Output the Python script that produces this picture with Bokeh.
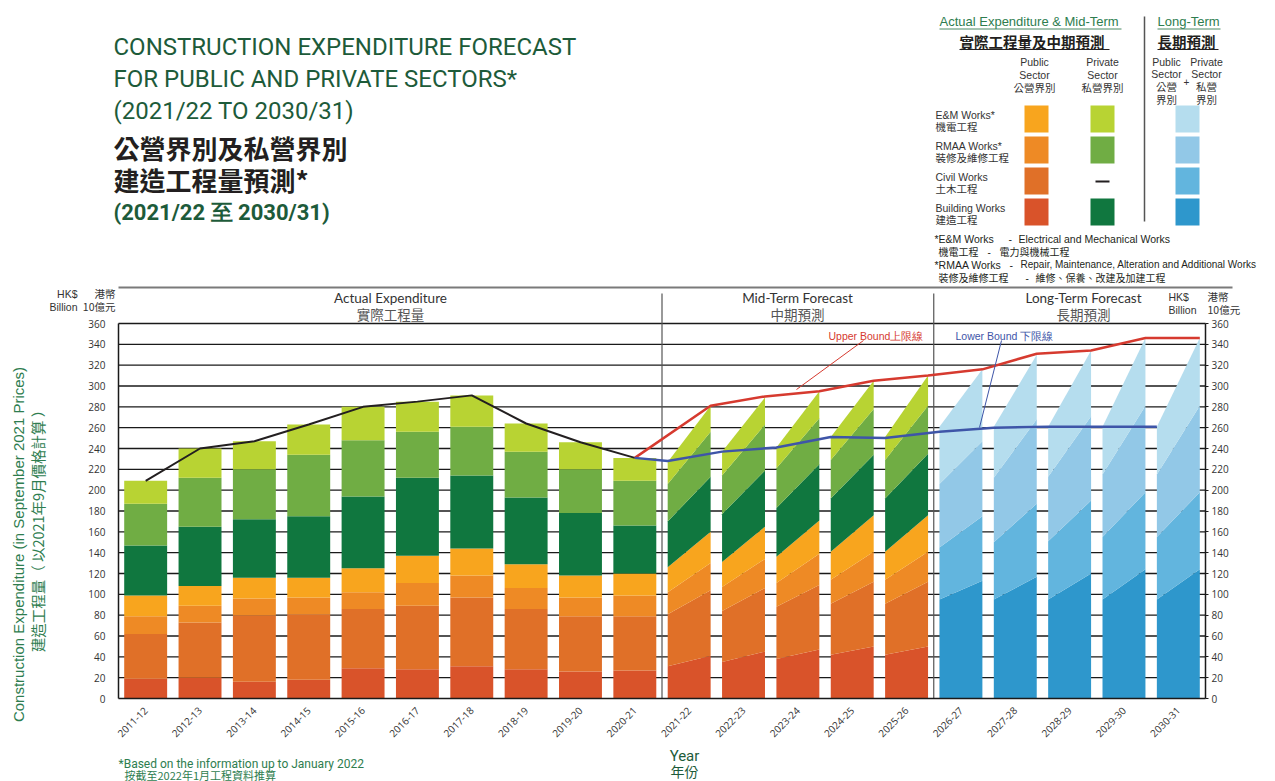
import numpy as np
from math import pi
from bokeh.plotting import figure
from bokeh.models import Range1d, FixedTicker, LinearAxis, Label
from bokeh.embed import file_html
from bokeh.resources import INLINE

# ---------------- data (HK$ billion, Sept 2021 prices) ----------------
years = ["2011-12", "2012-13", "2013-14", "2014-15", "2015-16", "2016-17",
         "2017-18", "2018-19", "2019-20", "2020-21", "2021-22", "2022-23",
         "2023-24", "2024-25", "2025-26", "2026-27", "2027-28", "2028-29",
         "2029-30", "2030-31"]

# actual expenditure 2011-12 .. 2020-21
act_pub_building = [19, 20, 16, 18, 29, 28, 31, 28, 26, 27]
act_pub_civil = [43, 53, 64, 63, 57, 61, 66, 58, 53, 52]
act_pub_rmaa = [17, 16, 16, 16, 16, 22, 21, 20, 18, 20]
act_pub_em = [20, 19, 20, 19, 23, 26, 26, 23, 21, 21]
act_priv_building = [48, 57, 56, 59, 69, 75, 70, 64, 60, 46]
act_priv_rmaa = [40, 47, 48, 59, 54, 44, 47, 44, 42, 43]
act_priv_em = [22, 28, 27, 29, 32, 29, 30, 27, 26, 22]

# mid-term forecast 2021-22 .. 2025-26 (low / high estimates)
mid_pub_building_low = [31, 35, 38, 42, 42]
mid_pub_building_high = [41, 45, 47, 50, 50]
mid_pub_civil_low = [50, 49, 50, 49, 49]
mid_pub_civil_high = [63, 61, 62, 62, 62]
mid_pub_rmaa_low = [21, 23, 23, 23, 23]
mid_pub_rmaa_high = [26, 28, 30, 29, 29]
mid_pub_em_low = [24, 24, 25, 27, 27]
mid_pub_em_high = [30, 31, 32, 35, 35]
mid_priv_building_low = [44, 46, 47, 51, 51]
mid_priv_building_high = [53, 54, 54, 58, 59]
mid_priv_rmaa_low = [36, 37, 38, 37, 37]
mid_priv_rmaa_high = [43, 44, 44, 44, 46]
mid_priv_em_low = [21, 23, 20, 22, 22]
mid_priv_em_high = [25, 26, 26, 27, 29]

# long-term forecast 2026-27 .. 2030-31 (public + private, low / high)
long_building_low = [95, 95, 95, 95, 95]
long_building_high = [113, 117, 120, 124, 124]
long_civil_low = [50, 55, 56, 60, 60]
long_civil_high = [62, 70, 70, 74, 74]
long_rmaa_low = [61, 62, 62, 60, 60]
long_rmaa_high = [72, 81, 81, 83, 83]
long_em_low = [55, 49, 48, 46, 46]
long_em_high = [69, 62, 63, 65, 65]

upper_bound = [281, 290, 295, 305, 310, 316, 331, 334, 346, 346]
lower_bound = [228, 237, 241, 251, 250, 256, 260, 261, 261, 261]

y_ticks = list(range(0, 361, 20))

# ---------------- styling ----------------
C_PUB_B, C_PUB_C, C_PUB_R, C_PUB_E = "#D9532A", "#E07028", "#EE8A25", "#F8A51E"
C_PRI_B, C_PRI_R, C_PRI_E = "#10773F", "#70AD44", "#B8D333"
C_L_B, C_L_C, C_L_R, C_L_E = "#2E97CC", "#62B5DE", "#92C8E7", "#B5DDEE"
GREEN_T = "#1D5B3A"
GREEN_L = "#2E7D4F"
RED = "#D63A2F"
BLUE = "#3E55A8"
BAR_W = 0.79
HALF = BAR_W / 2
W, H = 1275, 781


# page-pixel -> data helpers for layout decorations
def X(px):
    return (px - 118) / 54.35 - 0.5


def Y(py):
    return (698 - py) * 360 / 375


p = figure(width=W, height=H, output_backend="svg", toolbar_location=None,
           x_range=Range1d(X(0), X(W)), y_range=Range1d(Y(H), Y(0)),
           x_axis_location=None, y_axis_location=None,
           min_border_left=0, min_border_right=0, min_border_top=0,
           min_border_bottom=0, background_fill_color="white")
p.outline_line_color = None
p.xgrid.visible = False
p.ygrid.visible = False


def style_axis(ax):
    ax.minor_tick_line_color = None
    ax.axis_line_color = "#1a1a1a"
    ax.axis_line_width = 1.5
    ax.major_label_text_font = "Open Sans"
    ax.major_label_text_font_size = "10px"
    ax.major_label_text_color = "#333333"


la = LinearAxis(ticker=FixedTicker(ticks=y_ticks), bounds=(0, 360), fixed_location=-0.5)
style_axis(la)
la.major_tick_line_color = None
la.major_label_standoff = 7
p.add_layout(la, "left")

ra = LinearAxis(ticker=FixedTicker(ticks=y_ticks), bounds=(0, 360), fixed_location=19.5)
style_axis(ra)
ra.major_tick_out = 3
ra.major_tick_in = 0
ra.major_tick_line_color = "#1a1a1a"
ra.major_label_standoff = 3
p.add_layout(ra, "right")

ba = LinearAxis(ticker=FixedTicker(ticks=list(range(len(years)))), bounds=(-0.5, 19.5),
                fixed_location=0)
style_axis(ba)
ba.major_label_overrides = {i: y for i, y in enumerate(years)}
ba.major_label_orientation = pi / 4
ba.major_tick_line_color = None
ba.major_label_standoff = 4
p.add_layout(ba, "below")

# horizontal grid lines (0..360, across the plot only)
p.segment(x0=[-0.5] * len(y_ticks[1:]), y0=y_ticks[1:], x1=[19.5] * len(y_ticks[1:]),
          y1=y_ticks[1:], line_color="#1a1a1a", line_width=1.3)

# section dividers and header rule
p.segment(x0=[9.5, 14.5], y0=[0, 0], x1=[9.5, 14.5], y1=[Y(293), Y(293)],
          line_color="#555555", line_width=1.2)
p.segment(x0=[X(118)], y0=[Y(287)], x1=[X(1232)], y1=[Y(287)],
          line_color="#7a7a7a", line_width=2)

# ---------------- actual bars ----------------
act_layers = [act_pub_building, act_pub_civil, act_pub_rmaa, act_pub_em,
              act_priv_building, act_priv_rmaa, act_priv_em]
act_colors = [C_PUB_B, C_PUB_C, C_PUB_R, C_PUB_E, C_PRI_B, C_PRI_R, C_PRI_E]
xa_pos = np.arange(10)
bottom = np.zeros(10)
for vals, col in zip(act_layers, act_colors):
    top = bottom + np.array(vals)
    p.vbar(x=xa_pos, bottom=bottom, top=top, width=BAR_W,
           fill_color=col, line_color=None)
    bottom = top
act_total = bottom


# ---------------- forecast (slanted) bars ----------------
def slanted(xc, lows, highs, colors):
    n = len(xc)
    lb = np.zeros(n)
    hb = np.zeros(n)
    for lo, hi, col in zip(lows, highs, colors):
        lt = lb + np.array(lo)
        ht = hb + np.array(hi)
        xs = [[x - HALF, x + HALF, x + HALF, x - HALF] for x in xc]
        ys = [[lb[i], hb[i], ht[i], lt[i]] for i in range(n)]
        p.patches(xs=xs, ys=ys, fill_color=col, line_color=None)
        lb, hb = lt, ht


slanted(list(range(10, 15)),
        [mid_pub_building_low, mid_pub_civil_low, mid_pub_rmaa_low, mid_pub_em_low,
         mid_priv_building_low, mid_priv_rmaa_low, mid_priv_em_low],
        [mid_pub_building_high, mid_pub_civil_high, mid_pub_rmaa_high, mid_pub_em_high,
         mid_priv_building_high, mid_priv_rmaa_high, mid_priv_em_high],
        act_colors)
slanted(list(range(15, 20)),
        [long_building_low, long_civil_low, long_rmaa_low, long_em_low],
        [long_building_high, long_civil_high, long_rmaa_high, long_em_high],
        [C_L_B, C_L_C, C_L_R, C_L_E])

# ---------------- lines ----------------
p.line(x=list(xa_pos), y=list(act_total), line_color="#231F20", line_width=2)
fx = list(range(10, 20))
p.line(x=[9] + [x + HALF for x in fx], y=[act_total[-1]] + upper_bound,
       line_color=RED, line_width=2.5)
p.line(x=[9] + [x - HALF for x in fx], y=[act_total[-1]] + lower_bound,
       line_color=BLUE, line_width=2.5)

# leader lines for bound annotations
p.segment(x0=[X(863)], y0=[Y(340)], x1=[X(796)], y1=[Y(389)], line_color=RED, line_width=1)
p.segment(x0=[X(1001)], y0=[Y(340)], x1=[X(979)], y1=[Y(427)], line_color=BLUE, line_width=1)


def lab(px, py, text, size, color="#333333", font="Liberation Sans", align="left",
        style="normal", angle=0.0):
    p.add_layout(Label(x=X(px), y=Y(py), text=text, text_font=font,
                       text_font_size=f"{size}px", text_color=color,
                       text_align=align, text_baseline="middle",
                       text_font_style=style, angle=angle))


CJK = "Noto Sans CJK TC"

lab(828, 335, "Upper Bound上限線", 10.5, RED)
lab(955, 335, "Lower Bound 下限線", 10.5, BLUE)

# section headers
for cx, en, zh in [(390, "Actual Expenditure", "實際工程量"),
                   (797, "Mid-Term Forecast", "中期預測"),
                   (1083, "Long-Term Forecast", "長期預測")]:
    lab(cx, 297, en, 13.5, "#333333", "Lato", "center")
    lab(cx, 313, zh, 13.5, "#555555", CJK, "center")

# unit labels
lab(77, 293, "HK$", 10.5, "#333333", "Liberation Sans", "right")
lab(77, 306, "Billion", 10.5, "#333333", "Liberation Sans", "right")
lab(115, 293, "港幣", 10.5, "#333333", CJK, "right")
lab(115, 306, "10億元", 10.5, "#333333", CJK, "right")
lab(1168, 296, "HK$", 10.5, "#333333", "Liberation Sans")
lab(1168, 309, "Billion", 10.5, "#333333", "Liberation Sans")
lab(1207, 296, "港幣", 10.5, "#333333", CJK)
lab(1207, 309, "10億元", 10.5, "#333333", CJK)

# axis titles
lab(18, 544, "Construction Expenditure (in September 2021 Prices)", 15, GREEN_L,
    "Liberation Sans", "center", angle=pi / 2)
lab(37, 527, "建造工程量（ 以2021年9月價格計算 ）", 14.5, GREEN_L, CJK, "center", angle=pi / 2)
lab(684, 755, "Year", 15, GREEN_T, "Roboto", "center")
lab(684, 770, "年份", 14, GREEN_T, CJK, "center")
lab(118, 763, "*Based on the information up to January 2022", 12, GREEN_L, "Roboto")
lab(124, 774, "按截至2022年1月工程資料推算", 11, GREEN_L, CJK)

# title
lab(113, 46, "CONSTRUCTION EXPENDITURE FORECAST", 24, GREEN_T, "Roboto")
lab(113, 78, "FOR PUBLIC AND PRIVATE SECTORS*", 24, GREEN_T, "Roboto")
lab(113, 110, "(2021/22 TO 2030/31)", 24, GREEN_T, "Roboto")
lab(113, 147, "公營界別及私營界別", 26, "#231F20", CJK, style="bold")
lab(113, 179, "建造工程量預測*", 26, "#231F20", CJK, style="bold")
lab(113, 212, "(2021/22 至 2030/31)", 22, GREEN_T, "Roboto", style="bold")

# ---------------- legend ----------------
lab(939, 21, "Actual Expenditure & Mid-Term", 13, GREEN_L)
lab(1157, 21, "Long-Term", 13, GREEN_L)
lab(959, 41, "實際工程量及中期預測", 14.5, "#231F20", CJK, style="bold")
lab(1157, 41, "長期預測", 14.5, "#231F20", CJK, style="bold")
p.segment(x0=[X(939), X(1157), X(959), X(1157)], y0=[Y(28.5), Y(28.5), Y(49), Y(49)],
          x1=[X(1121), X(1220), X(1109), X(1218)], y1=[Y(28.5), Y(28.5), Y(49), Y(49)],
          line_color=["#4a8a65", "#4a8a65", "#231F20", "#231F20"], line_width=1)
p.segment(x0=[X(1144)], y0=[Y(16)], x1=[X(1144)], y1=[Y(221)], line_color="#555555",
          line_width=1.5)

for cx, lines in [(1034, ["Public", "Sector", "公營界別"]),
                  (1102, ["Private", "Sector", "私營界別"])]:
    for k, t in enumerate(lines):
        lab(cx, 61 + 13 * k, t, 10.5, "#333333", CJK if k == 2 else "Liberation Sans", "center")
for cx, lines in [(1166, ["Public", "Sector", "公營", "界別"]),
                  (1206, ["Private", "Sector", "私營", "界別"])]:
    for k, t in enumerate(lines):
        lab(cx, 61 + 12.6 * k, t, 10.5, "#333333", CJK if k >= 2 else "Liberation Sans", "center")
lab(1186, 81, "+", 10, "#333333", "Liberation Sans", "center")

rows = [(105, 132, "E&M Works*", "機電工程", C_PUB_E, C_PRI_E, C_L_E),
        (136, 163, "RMAA Works*", "裝修及維修工程", C_PUB_R, C_PRI_R, C_L_R),
        (167, 194, "Civil Works", "土木工程", C_PUB_C, None, C_L_C),
        (198, 225, "Building Works", "建造工程", C_PUB_B, C_PRI_B, C_L_B)]
qs = {"l": [], "r": [], "t": [], "b": [], "c": []}
for top, bot, en, zh, c1, c2, c3 in rows:
    lab(935, (top + bot) / 2 - 4.5, en, 10.5, "#333333")
    lab(935, (top + bot) / 2 + 7.5, zh, 10.5, "#333333", CJK)
    for (l, r), c in [((1024, 1048), c1), ((1090, 1114), c2), ((1175, 1199), c3)]:
        if c is None:
            continue
        qs["l"].append(X(l)); qs["r"].append(X(r))
        qs["t"].append(Y(top)); qs["b"].append(Y(bot)); qs["c"].append(c)
p.quad(left=qs["l"], right=qs["r"], top=qs["t"], bottom=qs["b"],
       fill_color=qs["c"], line_color=None)
p.segment(x0=[X(1095)], y0=[Y(181)], x1=[X(1109)], y1=[Y(181)], line_color="#231F20",
          line_width=2)

lab(934, 238, "*E&M Works", 10.5, "#231F20")
lab(1008, 238, "-", 10.5, "#231F20")
lab(1018, 238, "Electrical and Mechanical Works", 10.5, "#231F20")
lab(938, 251, "機電工程", 10, "#231F20", CJK)
lab(987, 251, "-", 10, "#231F20")
lab(999, 251, "電力與機械工程", 10, "#231F20", CJK)
lab(934, 264, "*RMAA Works", 10.5, "#231F20")
lab(1009, 264, "-", 10.5, "#231F20")
lab(1020, 264, "Repair, Maintenance, Alteration and Additional Works", 10, "#231F20")
lab(938, 277, "裝修及維修工程", 10, "#231F20", CJK)
lab(1025, 277, "-", 10, "#231F20")
lab(1035, 277, "維修、保養、改建及加建工程", 10, "#231F20", CJK)

open("out.html", "w").write(file_html(p, INLINE))
